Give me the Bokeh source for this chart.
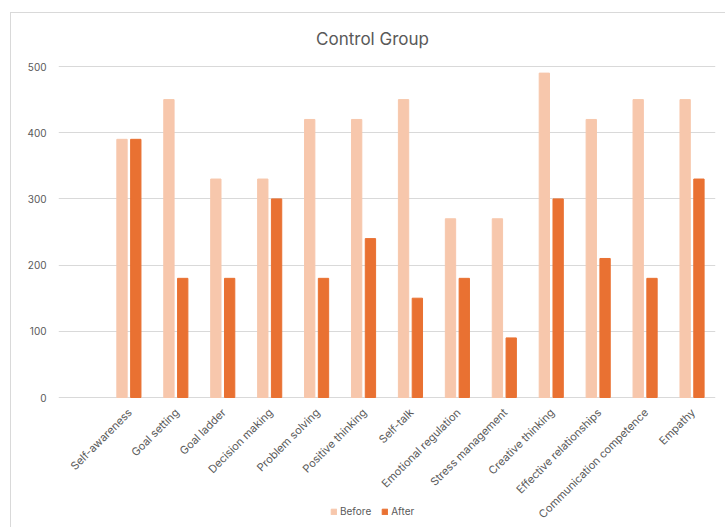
import math

from bokeh.core.properties import value
from bokeh.embed import file_html
from bokeh.models import (ColumnDataSource, FactorRange, FixedTicker, Label,
                          Legend, LegendItem, Range1d)
from bokeh.plotting import figure
from bokeh.resources import INLINE
from bokeh.transform import dodge

# Life-skill scores of the control group, before and after the programme
skills = [
    "Self-awareness", "Goal setting", "Goal ladder", "Decision making",
    "Problem solving", "Positive thinking", "Self-talk",
    "Emotional regulation", "Stress management", "Creative thinking",
    "Effective relationships", "Communication competence", "Empathy",
]
before = [390, 450, 330, 330, 420, 420, 450, 270, 270, 490, 420, 450, 450]
after = [390, 180, 180, 300, 180, 240, 150, 180, 90, 300, 210, 180, 330]
y_ticks = [0, 100, 200, 300, 400, 500]

BEFORE_COLOR = "#F7C7AC"
AFTER_COLOR = "#E97132"
TEXT_COLOR = "#595959"
GRID_COLOR = "#D9D9D9"
FONT = "Inter"

# vertical pixel budget of the plotting area: a band for the title above the
# top gridline, the value scale itself, and a strip below zero for the
# slanted category names and the legend
TITLE_BAND_PX = 53
VALUE_PX = 331
LABEL_STRIP_PX = 131
y_max = max(y_ticks)
y_lo = -y_max * LABEL_STRIP_PX / VALUE_PX
y_hi = y_max + y_max * TITLE_BAND_PX / VALUE_PX

source = ColumnDataSource(dict(skill=skills, before=before, after=after,
                               base=[0] * len(skills)))

# an empty leading slot leaves a gap between the value axis and the first group
x_range = FactorRange(factors=[""] + skills, range_padding=0)

p = figure(
    x_range=x_range,
    y_range=Range1d(y_lo, y_hi),
    width=715,
    height=TITLE_BAND_PX + VALUE_PX + LABEL_STRIP_PX,
    output_backend="svg",
    toolbar_location=None,
    min_border_left=47,
    min_border_right=11,
    min_border_top=0,
    min_border_bottom=0,
    margin=(12, 0, 0, 10),
    styles={"border-left": "1px solid #D9D9D9", "border-top": "1px solid #D9D9D9"},
)

r_before = p.vbar(x=dodge("skill", -0.147, range=p.x_range), top="before",
                  width=0.22, source=source, color=BEFORE_COLOR)
r_after = p.vbar(x=dodge("skill", 0.147, range=p.x_range), top="after",
                 width=0.22, source=source, color=AFTER_COLOR)

# slanted category names hanging from the zero line
p.text(x="skill", y="base", text="skill", source=source,
       angle=math.pi / 4, text_align="right", text_baseline="middle",
       x_offset=1, y_offset=13,
       text_font=value(FONT), text_font_size="11px", text_color=TEXT_COLOR)

# chart title, centred over the whole chart box
p.add_layout(Label(
    x=314, y=490, x_units="screen", y_units="screen",
    text="Control Group", text_align="center", text_baseline="middle",
    text_font=FONT, text_font_size="17px", text_color=TEXT_COLOR,
))

p.outline_line_color = None
p.background_fill_color = "white"
p.border_fill_color = "white"

p.xaxis.visible = False
p.xgrid.grid_line_color = None
p.ygrid.ticker = FixedTicker(ticks=y_ticks)
p.ygrid.grid_line_color = GRID_COLOR
p.ygrid.grid_line_width = 1

p.yaxis.ticker = FixedTicker(ticks=y_ticks)
p.yaxis.axis_line_color = None
p.yaxis.major_tick_line_color = None
p.yaxis.minor_tick_line_color = None
p.yaxis.major_label_standoff = 6
p.yaxis.major_label_text_font = FONT
p.yaxis.major_label_text_font_size = "10px"
p.yaxis.major_label_text_color = TEXT_COLOR

legend = Legend(
    items=[LegendItem(label="Before", renderers=[r_before]),
           LegendItem(label="After", renderers=[r_after])],
    orientation="horizontal",
    location=(272, 11),
    border_line_color=None,
    background_fill_alpha=0,
    glyph_width=7,
    glyph_height=7,
    label_standoff=3,
    spacing=10,
    padding=0,
    margin=0,
    label_text_font=FONT,
    label_text_font_size="10px",
    label_text_color=TEXT_COLOR,
)
p.add_layout(legend)

open("out.html", "w").write(file_html(p, INLINE))
